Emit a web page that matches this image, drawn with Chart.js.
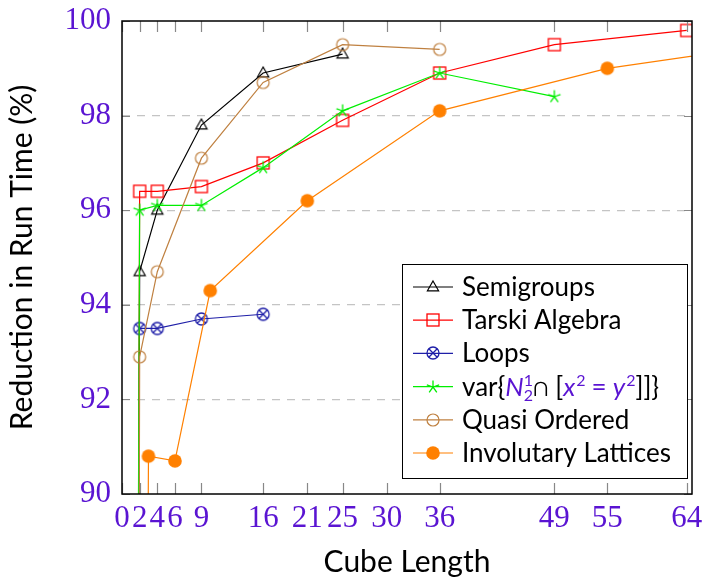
<!DOCTYPE html>
<html>
<head>
<meta charset="utf-8">
<script src="https://cdn.jsdelivr.net/npm/chart.js"></script>
<style>
  body { margin: 0; background: #fff; }
  canvas { display: block; }
</style>
</head>
<body>
<canvas id="runChart" width="702" height="581"></canvas>
<script>
// tick labels
const xTicks = [0, 2, 4, 6, 9, 16, 21, 25, 30, 36, 49, 55, 64];
const yTicks = [90, 92, 94, 96, 98, 100];

// series (first point of some series lies below the axis and is clipped)
const semigroupsX = [1, 2, 4, 9, 16, 25];
const semigroupsY = [40, 94.7, 96.0, 97.8, 98.9, 99.3];

const tarskiX = [1, 2, 4, 9, 16, 25, 36, 49, 64];
const tarskiY = [40, 96.4, 96.4, 96.5, 97.0, 97.9, 98.9, 99.5, 99.8];

const loopsX = [2, 4, 9, 16];
const loopsY = [93.5, 93.5, 93.7, 93.8];

const varX = [1, 2, 4, 9, 16, 25, 36, 49];
const varY = [50, 96.0, 96.1, 96.1, 96.9, 98.1, 98.9, 98.4];

const quasiX = [1, 2, 4, 9, 16, 25, 36];
const quasiY = [20, 92.9, 94.7, 97.1, 98.7, 99.5, 99.4];

const involX = [1, 3, 6, 10, 21, 36, 55, 81];
const involY = [20, 90.8, 90.7, 94.3, 96.2, 98.1, 99.0, 99.7];

const tickColor = '#5a14d2';

function marker(draw) {
    const c = document.createElement('canvas');
    c.width = 18; c.height = 18;
    const g = c.getContext('2d');
    g.translate(9, 9);
    draw(g);
    return c;
}

const triMark = marker(g => {
    g.strokeStyle = '#000'; g.lineWidth = 1.2;
    g.beginPath(); g.moveTo(0, -6); g.lineTo(5.6, 3.8); g.lineTo(-5.6, 3.8); g.closePath(); g.stroke();
});
const squareMark = marker(g => {
    g.strokeStyle = '#ff0000'; g.lineWidth = 1.3;
    g.strokeRect(-6, -6, 12, 12);
});
const otimesMark = marker(g => {
    g.strokeStyle = '#1f1fa8'; g.lineWidth = 1.3;
    g.beginPath(); g.arc(0, 0, 6, 0, Math.PI * 2); g.stroke();
    g.beginPath(); g.moveTo(-4.2, -4.2); g.lineTo(4.2, 4.2); g.moveTo(4.2, -4.2); g.lineTo(-4.2, 4.2); g.stroke();
});
const starMark = marker(g => {
    g.strokeStyle = '#00ee00'; g.lineWidth = 1.3;
    g.beginPath();
    for (let k = 0; k < 5; k++) {
        const a = -Math.PI / 2 + k * 2 * Math.PI / 5;
        g.moveTo(0, 0); g.lineTo(Math.cos(a) * 6.5, Math.sin(a) * 6.5);
    }
    g.stroke();
});
const circMark = marker(g => {
    g.strokeStyle = '#bf8040'; g.lineWidth = 1.2;
    g.beginPath(); g.arc(0, 0, 6, 0, Math.PI * 2); g.stroke();
});
const dotMark = marker(g => {
    g.fillStyle = '#ff8000';
    g.beginPath(); g.arc(0, 0, 6.8, 0, Math.PI * 2); g.fill();
});

function pts(xs, ys) {
    return xs.map((x, i) => ({ x: x, y: ys[i] }));
}

function series(label, xs, ys, color, mark, i) {
    return {
        label: label,
        data: pts(xs, ys),
        borderColor: color,
        backgroundColor: color,
        borderWidth: 1.2,
        pointStyle: mark,
        pointRadius: 6,
        pointHoverRadius: 6,
        tension: 0,
        order: -i
    };
}

const datasets = [
    series('Semigroups', semigroupsX, semigroupsY, '#000000', triMark, 0),
    series('Tarski Algebra', tarskiX, tarskiY, '#ff0000', squareMark, 1),
    series('Loops', loopsX, loopsY, '#1f1fa8', otimesMark, 2),
    series('var', varX, varY, '#00ee00', starMark, 3),
    series('Quasi Ordered', quasiX, quasiY, '#bf8040', circMark, 4),
    series('Involutary Lattices', involX, involY, '#ff8000', dotMark, 5)
];

// inner tick marks + frame
const frame = {
    id: 'frame',
    afterDraw(chart) {
        const { ctx, chartArea: a, scales } = chart;
        ctx.save();
        ctx.strokeStyle = '#888';
        ctx.lineWidth = 1.2;
        ctx.beginPath();
        xTicks.forEach(v => {
            const px = Math.round(scales.x.getPixelForValue(v)) + 0.5;
            ctx.moveTo(px, a.bottom); ctx.lineTo(px, a.bottom - 11);
            ctx.moveTo(px, a.top); ctx.lineTo(px, a.top + 11);
        });
        yTicks.forEach(v => {
            const py = Math.round(scales.y.getPixelForValue(v)) + 0.5;
            ctx.moveTo(a.left, py); ctx.lineTo(a.left + 8, py);
            ctx.moveTo(a.right, py); ctx.lineTo(a.right - 8, py);
        });
        ctx.stroke();
        ctx.strokeStyle = '#000';
        ctx.lineWidth = 1.5;
        ctx.strokeRect(a.left, a.top, a.right - a.left, a.bottom - a.top);
        ctx.restore();
    }
};

// legend box drawn inside the plot
const legendBox = {
    id: 'legendBox',
    afterDraw(chart) {
        const ctx = chart.ctx;
        const marks = [triMark, squareMark, otimesMark, starMark, circMark, dotMark];
        const left = 402, top = 264, w = 285, h = 214;
        ctx.save();
        ctx.fillStyle = '#fff';
        ctx.fillRect(left, top, w, h);
        ctx.strokeStyle = '#000';
        ctx.lineWidth = 1;
        ctx.strokeRect(left + 0.5, top + 0.5, w, h);
        ctx.textBaseline = 'alphabetic';
        chart.data.datasets.forEach((ds, i) => {
            const cy = 287 + i * 33.2;
            ctx.strokeStyle = ds.borderColor;
            ctx.lineWidth = 1.2;
            ctx.beginPath(); ctx.moveTo(413, cy); ctx.lineTo(453, cy); ctx.stroke();
            ctx.drawImage(marks[i], 433 - 9, Math.round(cy) - 9);
            const base = cy + 9;
            let x = 462;
            const plain = '26px Lato';
            const ital = 'italic 26px Lato';
            const small = '16px Lato';
            function put(t, font, color, dy) {
                ctx.font = font; ctx.fillStyle = color;
                ctx.fillText(t, x, base + (dy || 0));
                return ctx.measureText(t).width;
            }
            if (ds.label !== 'var') {
                put(ds.label, plain, '#000');
            } else {
                x += put('var{', plain, '#000');
                x += put('N', ital, tickColor);
                const sx = x;
                put('1', small, tickColor, -10);
                x += put('2', small, tickColor, 5);
                x = Math.max(x, sx);
                x += put('\u2229 [', plain, '#000');
                x += put('x', ital, tickColor) + 1;
                x += put('2', small, tickColor, -10) + 6;
                x += put('=', plain, tickColor) + 6;
                x += put('y', ital, tickColor) + 1;
                x += put('2', small, tickColor, -10);
                put(']]}', plain, '#000');
            }
        });
        ctx.restore();
    }
};

new Chart(document.getElementById('runChart'), {
    type: 'line',
    data: { datasets: datasets },
    plugins: [frame, legendBox],
    options: {
        responsive: false,
        animation: false,
        layout: { padding: { top: 21, right: 10, left: 0, bottom: 0 } },
        plugins: { legend: { display: false }, tooltip: { enabled: false } },
        scales: {
            x: {
                type: 'linear',
                min: 0,
                max: 64.6,
                afterBuildTicks: s => { s.ticks = xTicks.map(v => ({ value: v })); },
                afterFit: s => { s.height = 87; s.paddingLeft = 0; s.paddingRight = 0; },
                grid: { drawOnChartArea: false, drawTicks: false },
                border: { display: false },
                ticks: {
                    autoSkip: false,
                    maxRotation: 0,
                    padding: 6,
                    color: tickColor,
                    font: { family: 'Liberation Serif', size: 31 }
                },
                title: {
                    display: true,
                    text: 'Cube Length',
                    color: '#000',
                    font: { family: 'Lato', size: 30 },
                    padding: { top: 0, bottom: 1 }
                }
            },
            y: {
                min: 90,
                max: 100,
                afterBuildTicks: s => { s.ticks = yTicks.map(v => ({ value: v })); },
                afterFit: s => { s.width = 122; s.paddingTop = 0; s.paddingBottom = 0; },
                grid: {
                    drawTicks: false,
                    color: c => (c.tick && (c.tick.value === 90 || c.tick.value === 100)) ? 'rgba(0,0,0,0)' : '#c4c4c4',
                    lineWidth: 1.2
                },
                border: { display: false, dash: [8, 7] },
                ticks: {
                    padding: 11,
                    color: tickColor,
                    font: { family: 'Liberation Serif', size: 31 }
                },
                title: {
                    display: true,
                    text: 'Reduction in Run Time (%)',
                    color: '#000',
                    font: { family: 'Lato', size: 30 },
                    padding: { top: 4, bottom: 0 }
                }
            }
        }
    }
});
</script>
</body>
</html>
